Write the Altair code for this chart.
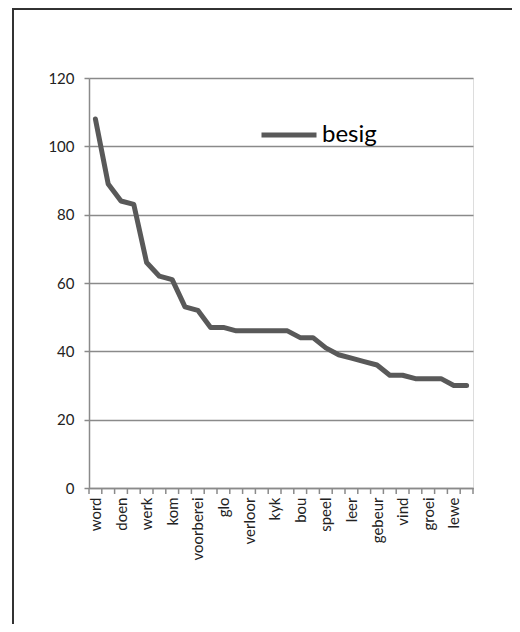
import altair as alt
import pandas as pd

# category labels shown on the axis (every other category)
shown_labels = ["word", "doen", "werk", "kom", "voorberei", "glo", "verloor", "kyk",
                "bou", "speel", "leer", "gebeur", "vind", "groei", "lewe"]
# series values (30 categories)
values = [108, 89, 84, 83, 66, 62, 61, 53, 52, 47, 47, 46, 46, 46, 46, 46, 44, 44,
          41, 39, 38, 37, 36, 33, 33, 32, 32, 32, 30, 30]
series_name = "besig"
y_ticks = [0, 20, 40, 60, 80, 100, 120]

n = len(values)
df = pd.DataFrame({"idx": list(range(1, n + 1)), "value": values, "series": series_name})
bounds = pd.DataFrame({"b": [i + 0.5 for i in range(0, n + 1)]})

W, H = 384, 410
FONT = "Lato"
GRAY = "#8a8a8a"
LINE = "#595959"

js_arr = "[" + ",".join("'" + s + "'" for s in shown_labels) + "]"
label_expr = js_arr + "[(datum.value-1)/2]"

xscale = alt.Scale(domain=[0.5, n + 0.5], nice=False, zero=False)
xaxis = alt.Axis(values=list(range(1, n + 1, 2)), labelExpr=label_expr,
                 labelAngle=-90, labelAlign="right", labelBaseline="middle",
                 ticks=False, grid=False, labelPadding=9, domainColor=GRAY,
                 domainWidth=1.5, labelFont=FONT, labelFontSize=15,
                 labelColor="#222222", labelOverlap=False, labelFlush=False)

line = alt.Chart(df).mark_line(strokeWidth=5, strokeJoin="round", strokeCap="round").encode(
    x=alt.X("idx:Q", scale=xscale, title=None, axis=xaxis),
    y=alt.Y("value:Q", scale=alt.Scale(domain=[0, 120], nice=False), title=None,
            axis=alt.Axis(values=y_ticks, tickSize=5, tickColor=GRAY, tickWidth=1.5,
                          gridColor=GRAY, gridWidth=1.5, domainColor=GRAY, domainWidth=1.5,
                          labelFont=FONT, labelFontSize=15, labelColor="#222222",
                          labelPadding=10)),
    color=alt.Color("series:N", scale=alt.Scale(range=[LINE]), title=None,
                    legend=alt.Legend(orient="none", legendX=170, legendY=27,
                                      symbolType="stroke", symbolSize=3025,
                                      symbolStrokeWidth=5, labelFont=FONT,
                                      labelFontSize=24, labelColor="#000000",
                                      labelOffset=3, padding=0)),
)

ticks = alt.Chart(bounds).mark_rule(color=GRAY, strokeWidth=1.5).encode(
    x=alt.X("b:Q", scale=xscale, title=None, axis=xaxis),
    y=alt.value(H),
    y2=alt.value(H + 6),
)

frame_left = alt.Chart(bounds).mark_rule(color="#333333", strokeWidth=1.5).encode(
    x=alt.value(-76), y=alt.value(-69.5), y2=alt.value(546)
)
frame_top = alt.Chart(bounds).mark_rule(color="#333333", strokeWidth=1.5).encode(
    x=alt.value(-76), x2=alt.value(430), y=alt.value(-69.5)
)

chart = alt.layer(frame_left, frame_top, ticks, line).properties(
    width=W, height=H,
    autosize=alt.AutoSizeParams(type="none"),
    padding={"left": 81, "top": 70, "right": 39, "bottom": 136},
).configure_view(stroke=None).configure(background="white").configure_axisX(labelOverlap=False)

chart.save("out.html", embed_options={"renderer": "svg", "actions": False})
